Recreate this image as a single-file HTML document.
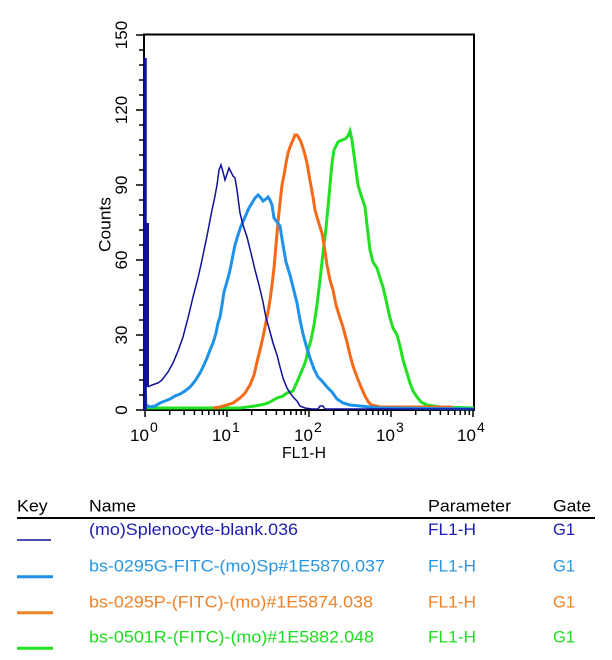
<!DOCTYPE html>
<html><head><meta charset="utf-8"><style>
html,body{margin:0;padding:0;background:#fff;}
svg{display:block;}
text{font-family:"Liberation Sans",Arial,Helvetica,sans-serif;}
</style></head><body>
<svg width="612" height="660" viewBox="0 0 612 660" xmlns="http://www.w3.org/2000/svg">
<rect width="612" height="660" fill="#fff"/>

<!-- frame -->
<rect x="144" y="34.5" width="330" height="375.5" fill="none" stroke="#000" stroke-width="2"/>

<!-- curves -->
<g fill="none" stroke-linejoin="miter" stroke-linecap="butt">
<!-- green -->
<polyline stroke="#22e022" stroke-width="3" points="145,408 240,408 255,406 265,404 270,402 277,398 283,396 287,393 293,391 297,382 300,375 303,368 306,360 308,350 311,340 314,325 317,305 320,280 323,253 326,228 328,207 330,185 332,163 334,150 336,146 338,142 342,140 345,139 348,136 350,131 352,140 354,155 356,170 358,185 361,195 365,207 367,225 370,250 373,262 377,268 380,278 383,287 386,300 390,318 393,328 397,335 400,346 403,360 407,373 410,383 413,391 417,397 421,402 427,405 440,407 474,408"/>
<!-- orange -->
<polyline stroke="#f56a18" stroke-width="3" points="213,408 220,407 227,405 233,403 240,398 245,393 250,385 254,375 257,362 260,350 263,337 266,322 268,312 270,300 272,285 274,268 276,245 278,222 280,203 282,185 284,175 286,163 288,153 290,147 293,140 295,135 297,135 299,138 301,142 303,148 305,155 307,163 309,175 311,186 313,197 315,210 317,217 320,227 322,233 324,245 327,265 330,280 333,290 336,305 340,318 343,327 347,342 350,355 353,366 357,377 361,387 365,396 369,403 372,405 380,407 450,407 455,409 474,409"/>
<!-- light blue -->
<polyline stroke="#1e92e8" stroke-width="3" points="145,383 146,405 150,407 155,406 160,403 165,401 170,399 175,396 180,394 185,391 190,387 195,381 200,373 203,367 207,358 210,350 213,343 216,333 218,323 220,317 222,305 224,292 226,285 228,278 230,270 232,260 235,245 238,235 241,226 245,217 249,208 252,203 255,198 258,195 261,198 263,201 266,199 268,197 270,200 272,205 274,218 280,226 283,245 286,262 290,275 293,287 297,303 300,320 303,334 306,345 310,358 314,369 318,377 322,381 327,387 332,392 337,399 343,403 350,405 360,406 370,407 380,408 474,409"/>
<!-- dark blue -->
<path stroke="#10109a" stroke-width="3.5" d="M145,410 V58"/>
<path stroke="#10109a" stroke-width="3" d="M147.5,387 V223"/>
<polyline stroke="#10109a" stroke-width="1.5" points="148,387 152,385 158,383 162,380 168,372 173,363 178,351 183,337 188,318 193,297 198,278 202,260 207,236 212,210 215,196 217,185 219,170 221,165 223,172 225,180 227,174 229,168 231,172 233,176 235,178 237,190 240,213 243,225 247,237 251,253 255,270 259,285 263,302 266,318 269,328 273,343 277,355 280,367 283,378 287,388 290,393 294,398 297,401 300,406 305,408 312,409 318,409 320,406 323,406 325,409 474,409"/>
</g>

<!-- y ticks -->
<path stroke="#000" stroke-width="1.5" fill="none" d="
M136,410H144 M139,395H144 M139,380H144 M139,365H144 M139,350H144
M136,335H144 M139,320H144 M139,305H144 M139,290H144 M139,275H144
M136,260H144 M139,245H144 M139,230H144 M139,215H144 M139,200H144
M136,185H144 M139,170H144 M139,155H144 M139,140H144 M139,125H144
M136,110H144 M139,95H144 M139,80H144 M139,65H144 M139,50H144
M136,35H144"/>

<!-- x ticks -->
<path stroke="#000" stroke-width="1.5" fill="none" d="
M145,410V417 M169.7,410V415 M184.1,410V415 M194.4,410V415 M202.3,410V415 M208.8,410V415 M214.3,410V415 M219.1,410V415 M223.3,410V415
M227,410V417 M251.7,410V415 M266.1,410V415 M276.4,410V415 M284.3,410V415 M290.8,410V415 M296.3,410V415 M301.1,410V415 M305.3,410V415
M309,410V417 M333.7,410V415 M348.1,410V415 M358.4,410V415 M366.3,410V415 M372.8,410V415 M378.3,410V415 M383.1,410V415 M387.3,410V415
M391,410V417 M415.7,410V415 M430.1,410V415 M440.4,410V415 M448.3,410V415 M454.8,410V415 M460.3,410V415 M465.1,410V415 M469.3,410V415
M473,410V417"/>

<!-- y labels -->
<g font-size="17" fill="#000" text-anchor="middle">
<text transform="translate(127,410) rotate(-90)">0</text>
<text transform="translate(127,335) rotate(-90)">30</text>
<text transform="translate(127,260) rotate(-90)">60</text>
<text transform="translate(127,185) rotate(-90)">90</text>
<text transform="translate(127,110) rotate(-90)">120</text>
<text transform="translate(127,35) rotate(-90)">150</text>
<text transform="translate(110.5,224.5) rotate(-90)" textLength="55" lengthAdjust="spacingAndGlyphs">Counts</text>
</g>

<!-- x labels -->
<g fill="#000">
<text x="130" y="441" font-size="17">10</text><text x="150" y="432" font-size="14">0</text>
<text x="212" y="441" font-size="17">10</text><text x="232" y="432" font-size="14">1</text>
<text x="294" y="441" font-size="17">10</text><text x="314" y="432" font-size="14">2</text>
<text x="376" y="441" font-size="17">10</text><text x="396" y="432" font-size="14">3</text>
<text x="457" y="441" font-size="17">10</text><text x="477" y="432" font-size="14">4</text>
<text x="282" y="458" font-size="16" textLength="44" lengthAdjust="spacingAndGlyphs">FL1-H</text>
</g>

<!-- legend -->
<g font-size="17">
<text x="17" y="511.5" fill="#000" textLength="30.7" lengthAdjust="spacingAndGlyphs">Key</text>
<text x="89" y="511.5" fill="#000" textLength="47" lengthAdjust="spacingAndGlyphs">Name</text>
<text x="428" y="511.5" fill="#000" textLength="83" lengthAdjust="spacingAndGlyphs">Parameter</text>
<text x="553" y="511.5" fill="#000" textLength="38" lengthAdjust="spacingAndGlyphs">Gate</text>
<line x1="17" y1="518" x2="595" y2="518" stroke="#000" stroke-width="2"/>

<line x1="17" y1="540" x2="51" y2="540" stroke="#10109a" stroke-width="1.6"/>
<text x="89" y="535" fill="#1c1cb4" textLength="209" lengthAdjust="spacingAndGlyphs">(mo)Splenocyte-blank.036</text>
<text x="428" y="535" fill="#1c1cb4" textLength="48" lengthAdjust="spacingAndGlyphs">FL1-H</text>
<text x="553" y="535" fill="#1c1cb4" textLength="22" lengthAdjust="spacingAndGlyphs">G1</text>

<line x1="17" y1="576.7" x2="53" y2="576.7" stroke="#1e92e8" stroke-width="3"/>
<text x="89" y="571.7" fill="#2896e0" textLength="296" lengthAdjust="spacingAndGlyphs">bs-0295G-FITC-(mo)Sp#1E5870.037</text>
<text x="428" y="571.7" fill="#2896e0" textLength="48" lengthAdjust="spacingAndGlyphs">FL1-H</text>
<text x="553" y="571.7" fill="#2896e0" textLength="22" lengthAdjust="spacingAndGlyphs">G1</text>

<line x1="17" y1="612.7" x2="53" y2="612.7" stroke="#f08228" stroke-width="3"/>
<text x="89" y="607.3" fill="#f08228" textLength="284" lengthAdjust="spacingAndGlyphs">bs-0295P-(FITC)-(mo)#1E5874.038</text>
<text x="428" y="607.3" fill="#f08228" textLength="48" lengthAdjust="spacingAndGlyphs">FL1-H</text>
<text x="553" y="607.3" fill="#f08228" textLength="22" lengthAdjust="spacingAndGlyphs">G1</text>

<line x1="17" y1="648.3" x2="53" y2="648.3" stroke="#22e022" stroke-width="3"/>
<text x="89" y="642.7" fill="#1edc1e" textLength="285" lengthAdjust="spacingAndGlyphs">bs-0501R-(FITC)-(mo)#1E5882.048</text>
<text x="428" y="642.7" fill="#1edc1e" textLength="48" lengthAdjust="spacingAndGlyphs">FL1-H</text>
<text x="553" y="642.7" fill="#1edc1e" textLength="22" lengthAdjust="spacingAndGlyphs">G1</text>
</g>
</svg>
</body></html>
